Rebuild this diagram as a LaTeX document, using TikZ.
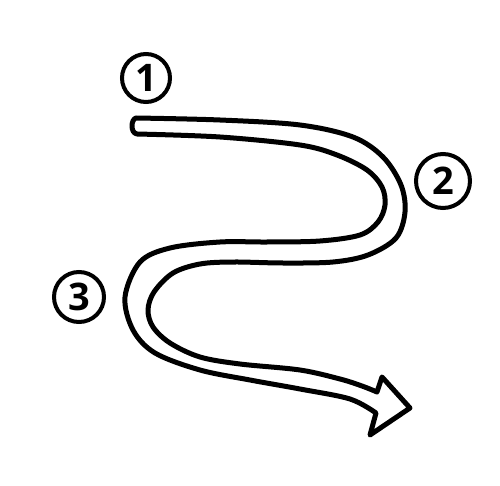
\documentclass[tikz,border=0pt]{standalone}
\usepackage{fontspec}
\newfontfamily\digitfont{Open Sans}
\begin{document}
\begin{tikzpicture}[x=1pt,y=-1pt,
  band/.style={line width=5pt,line join=round,line cap=round},
  numcircle/.style={circle,draw,line width=4pt,inner sep=0pt,font=\digitfont\bfseries\fontsize{38}{38}\selectfont}]
\useasboundingbox (0,0) rectangle (500,486);
\fill[white] (0,0) rectangle (500,486);
\node[numcircle,minimum size=48pt] (n1) at (146,78) {1};
\node[numcircle,minimum size=54pt] (n2) at (443,181) {2};
\node[numcircle,minimum size=50pt] (n3) at (79,297) {3};
\draw[band] plot[smooth,tension=0.55] coordinates {(136,118) (220,120) (300,125) (353,137) (383,157) (401,185) (405,212) (396,238) (368,255) (333,262) (283,263) (233,262) (200,264) (173,273) (154,292) (148,310) (153,327) (170,343) (200,357) (240,364) (300,370) (340,379) (362,386) (377,392)}
 -- (382,377) -- (410,408) -- (370,435) -- (376,413)
 -- plot[smooth,tension=0.55] coordinates {(376,413) (350,399) (300,389) (250,380) (200,370) (155,353) (133,330) (125,297) (140,262) (170,248) (220,242) (267,242) (320,241) (360,235) (378,222) (385,205) (382,187) (367,170) (337,155) (300,145) (220,137) (137,134)}
 .. controls (130,133) and (131,119) .. (136,118) -- cycle;
\end{tikzpicture}
\end{document}
